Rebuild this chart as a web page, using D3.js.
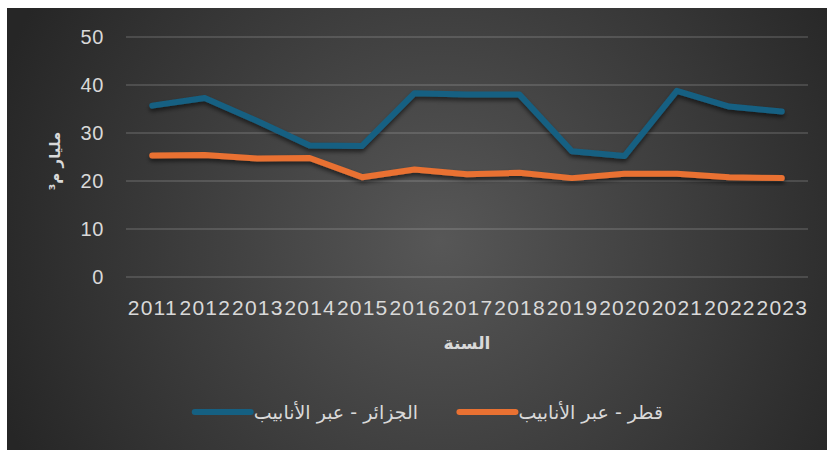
<!DOCTYPE html>
<html lang="ar">
<head>
<meta charset="UTF-8">
<title>الغاز عبر الأنابيب</title>
<script src="https://d3js.org/d3.v7.min.js"></script>
<style>
  html, body { margin: 0; padding: 0; background: #ffffff; }
  svg { display: block; }
  text { font-family: "Liberation Sans", Arial, "DejaVu Sans", sans-serif; fill: #d9d9d9; }
</style>
</head>
<body>
<div id="chart"></div>
<script>
// data
const years = ["2011", "2012", "2013", "2014", "2015", "2016", "2017", "2018", "2019", "2020", "2021", "2022", "2023"];
const algeria = [35.7, 37.3, 32.5, 27.4, 27.3, 38.3, 38.0, 38.0, 26.2, 25.2, 38.8, 35.5, 34.5];
const qatar = [25.3, 25.4, 24.7, 24.8, 20.8, 22.4, 21.4, 21.7, 20.6, 21.5, 21.5, 20.8, 20.6];
const yTicks = [0, 10, 20, 30, 40, 50];
const seriesNames = ["الجزائر - عبر الأنابيب", "قطر - عبر الأنابيب"];
const seriesColors = ["#156082", "#e97132"];

const width = 827, height = 450;
const margin = { top: 37, right: 19, bottom: 173, left: 126 };

const svg = d3.select("#chart").append("svg")
    .attr("width", width)
    .attr("height", height);

const defs = svg.append("defs");
const grad = defs.append("radialGradient")
    .attr("id", "bg")
    .attr("gradientUnits", "userSpaceOnUse")
    .attr("cx", 440).attr("cy", 240).attr("r", 470);
grad.append("stop").attr("offset", "0%").attr("stop-color", "#575757");
grad.append("stop").attr("offset", "100%").attr("stop-color", "#262626");

const shadow = defs.append("filter")
    .attr("id", "shadow")
    .attr("x", "-10%").attr("y", "-30%")
    .attr("width", "120%").attr("height", "160%");
shadow.append("feDropShadow")
    .attr("dx", 0).attr("dy", 3)
    .attr("stdDeviation", 2)
    .attr("flood-color", "#000")
    .attr("flood-opacity", 0.55);

// chart area background
svg.append("rect")
    .attr("x", 7).attr("y", 8)
    .attr("width", width - 7).attr("height", height - 8)
    .attr("fill", "url(#bg)");

const x = d3.scaleBand()
    .domain(years)
    .range([margin.left, width - margin.right]);

// 0 sits at 277, 50 at 37
const y = d3.scaleLinear()
    .domain([0, 50])
    .range([277, margin.top]);

// gridlines
svg.append("g")
    .selectAll("line")
    .data(yTicks)
    .join("line")
    .attr("x1", margin.left)
    .attr("x2", width - margin.right)
    .attr("y1", d => y(d))
    .attr("y2", d => y(d))
    .attr("stroke", "#d9d9d9")
    .attr("stroke-opacity", 0.22)
    .attr("stroke-width", 1.5);

// y axis labels
const yAxis = svg.append("g")
    .attr("transform", `translate(${margin.left - 22},0)`)
    .call(d3.axisLeft(y).tickValues(yTicks).tickSize(0).tickPadding(0));
yAxis.select(".domain").remove();
yAxis.selectAll("text")
    .attr("fill", "#d9d9d9")
    .style("font-size", "20px")
    .style("letter-spacing", "0.6px")
    .style("font-family", "\"Liberation Sans\", Arial, sans-serif");

// x axis labels
const xAxis = svg.append("g")
    .attr("transform", `translate(0,${y(0) + 19})`)
    .call(d3.axisBottom(x).tickSize(0).tickPadding(4));
xAxis.select(".domain").remove();
xAxis.selectAll("text")
    .attr("fill", "#d9d9d9")
    .attr("dx", "0.6px")
    .style("font-size", "21px")
    .style("letter-spacing", "1.2px")
    .style("font-family", "\"Liberation Sans\", Arial, sans-serif");

// axis titles
svg.append("text")
    .attr("x", (margin.left + width - margin.right) / 2)
    .attr("y", 349)
    .attr("text-anchor", "middle")
    .style("font-size", "17px")
    .style("font-weight", "bold")
    .style("font-family", "\"DejaVu Sans\", sans-serif")
    .text("السنة");

svg.append("text")
    .attr("transform", "translate(60,161) rotate(-90)")
    .attr("text-anchor", "middle")
    .style("font-size", "15px")
    .style("font-weight", "bold")
    .style("font-family", "\"DejaVu Sans\", sans-serif")
    .text("مليار م³");

// series lines
const line = d3.line()
    .x((d, i) => x(years[i]) + x.bandwidth() / 2)
    .y(d => y(d));

[algeria, qatar].forEach((vals, k) => {
    svg.append("path")
        .datum(vals)
        .attr("d", line)
        .attr("fill", "none")
        .attr("stroke", seriesColors[k])
        .attr("stroke-width", 6)
        .attr("stroke-linecap", "round")
        .attr("stroke-linejoin", "round")
        .attr("filter", "url(#shadow)");
});

// legend
const legendItems = [
    { name: seriesNames[0], color: seriesColors[0], right: 418 },
    { name: seriesNames[1], color: seriesColors[1], right: 663 }
];
legendItems.forEach(item => {
    const g = svg.append("g");
    const t = g.append("text")
        .attr("x", item.right)
        .attr("y", 419)
        .attr("text-anchor", "end")
        .style("font-size", "19px")
        .style("font-family", "\"DejaVu Sans\", sans-serif")
        .text(item.name);
    const w = t.node().getComputedTextLength();
    const x1 = item.right - w - 3;
    g.append("line")
        .attr("x1", x1 - 56).attr("x2", x1)
        .attr("y1", 412).attr("y2", 412)
        .attr("stroke", item.color)
        .attr("stroke-width", 6)
        .attr("stroke-linecap", "round");
});
</script>
</body>
</html>
